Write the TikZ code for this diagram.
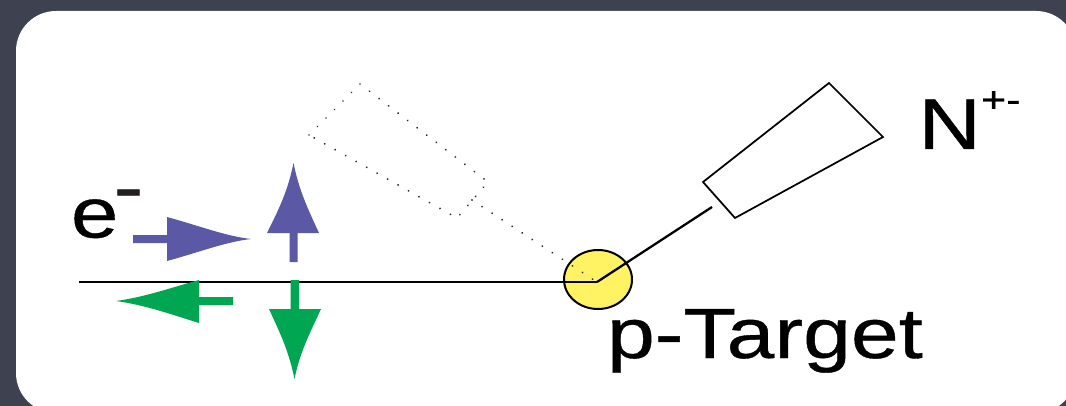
\documentclass[tikz,border=0pt]{standalone}
\usepackage{fontspec}
\usetikzlibrary{shapes.geometric}
\setmainfont{Liberation Sans}
\newfontfamily\heavyfont{Liberation Sans}[FakeBold=0.5]
\definecolor{bgdark}{HTML}{3E4250}
\definecolor{bluearrow}{HTML}{5B58A5}
\definecolor{greenarrow}{HTML}{00A651}
\definecolor{targetyellow}{HTML}{FFF263}
\definecolor{minusdark}{HTML}{231F20}
\newcommand{\widetext}[2]{\scalebox{1.2}[1]{\heavyfont\fontsize{#1pt}{#1pt}\selectfont #2}}
\tikzset{
  label text/.style={anchor=base west,inner sep=0pt,outer sep=0pt,text=black},
  thin line/.style={draw=black,line width=1.7pt},
  dot line/.style={draw=black!85,line width=1.5pt,line cap=round,dash pattern=on 0.01pt off 9pt},
  blue shape/.style={fill=bluearrow,draw=none},
  green shape/.style={fill=greenarrow,draw=none},
}
\begin{document}
\begin{tikzpicture}[x=0.75pt,y=-0.75pt]
\useasboundingbox (0,0) rectangle (1066,406);
\fill[bgdark] (0,0) rectangle (1066,406);
% card
\fill[white,rounded corners=30] (16,11) rectangle (1076,413);
% coordinates
\coordinate (beamstart) at (79,282);
\coordinate (vertex) at (597,282);
\coordinate (armend) at (712,207);
\coordinate (dotend) at (472,200);
% target
\node[draw=black,line width=1.5pt,fill=targetyellow,ellipse,minimum width=51pt,minimum height=44.25pt,inner sep=0pt] (target) at (598,279.5) {};
% dotted detector
\draw[dot line] (309,135) -- (360,84) -- (488,182) -- (457,218) -- cycle;
\draw[dot line] (dotend) -- (vertex);
% solid detector
\draw[draw=black,line width=1.3pt,line join=miter] (703,182) -- (829,83) -- (883,137) -- (735,218) -- cycle;
% lines
\draw[thin line] (beamstart) -- (vertex);
\draw[thin line] (vertex) -- (armend);
% blue right arrow
\fill[blue shape] (133,235) -- (167,235) -- (167,217) .. controls (200,226) and (225,236) .. (251,239)
  .. controls (225,242) and (200,252) .. (167,261) -- (167,243) -- (133,243) -- cycle;
% blue up arrow
\fill[blue shape] (289.5,262) -- (289.5,233) -- (267,233) .. controls (280,207) and (288,190) .. (293.5,163)
  .. controls (299,190) and (307,207) .. (319,233) -- (297.5,233) -- (297.5,262) -- cycle;
% green left arrow
\fill[green shape] (233,297) -- (199,297) -- (199,280) .. controls (170,288) and (145,297) .. (116,301)
  .. controls (145,305) and (170,314) .. (199,323) -- (199,305) -- (233,305) -- cycle;
% green down arrow
\fill[green shape] (290.5,280) -- (290.5,309) -- (269,309) .. controls (281,335) and (289,352) .. (294.5,379)
  .. controls (300,352) and (309,335) .. (321,309) -- (299,309) -- (299,280) -- cycle;
% labels
\node[label text] (elabel) at (71,237.5) {\widetext{53.25}{e}\hspace{-3.5pt}\raisebox{19pt}{\textcolor{minusdark}{\widetext{55.5}{-}}}};
\node[label text] (nletter) at (918.5,149) {\widetext{54}{N}};
\node[label text] (nsup) at (981,112) {\widetext{27}{+-}};
\node[label text] (ptarget) at (607,358) {\scalebox{1.01}[1]{\widetext{53.25}{p-Target}}};
\end{tikzpicture}
\end{document}
